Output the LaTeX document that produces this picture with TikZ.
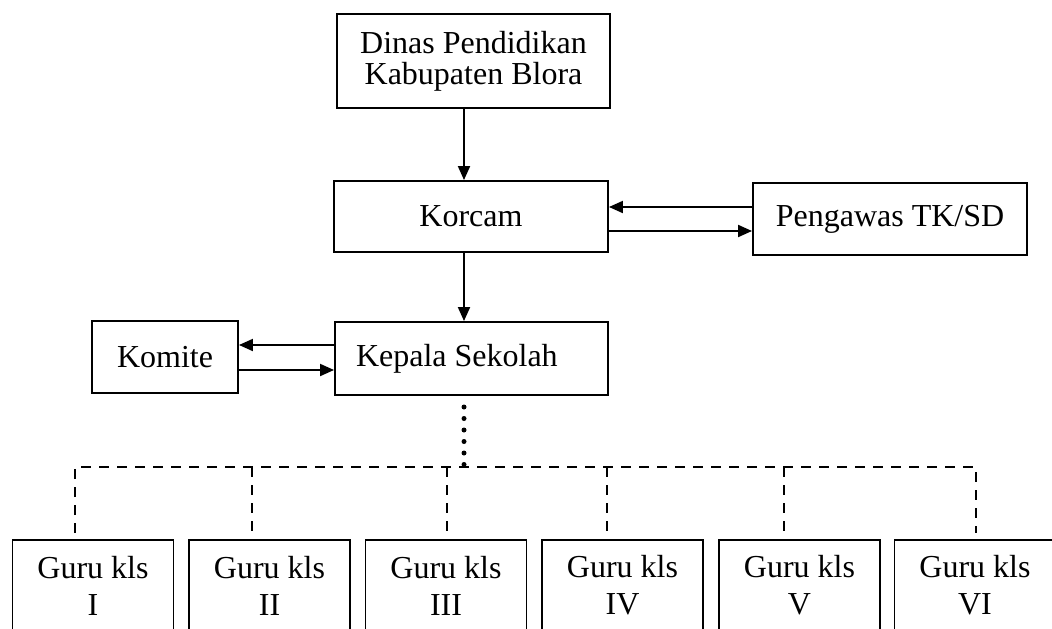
\documentclass[tikz,border=0pt]{standalone}
\usepackage{fontspec}
\setmainfont{Liberation Serif}
\usetikzlibrary{arrows.meta,positioning}
\begin{document}
\begin{tikzpicture}[x=1pt,y=-1pt,
  box/.style={draw,line width=1.9pt,rectangle,inner sep=0pt,align=center,
    font=\fontsize{32}{31}\selectfont},
  gurubox/.style={draw,line width=1.8pt,rectangle,inner sep=0pt,align=center,
    minimum width=161pt,minimum height=91pt,anchor=north,
    font=\fontsize{32}{37}\selectfont},
  arr/.style={line width=1.9pt,-{Triangle[length=14pt,width=12pt]}},
  dashline/.style={line width=2.1pt,dash pattern=on 10pt off 8pt},
  dotline/.style={line width=5pt,line cap=round,dash pattern=on 0pt off 11.5pt}]
\useasboundingbox (0,0) rectangle (1052,629);
\clip (0,0) rectangle (1052,629);
% top boxes
\node[box,minimum width=273pt,minimum height=94pt] (dinas) at (473.5,61) {Dinas Pendidikan\\Kabupaten Blora};
\node[box,minimum width=274pt,minimum height=71pt] (korcam) at (471,216.5) {Korcam};
\node[box,minimum width=274pt,minimum height=72pt] (peng) at (890,219) {Pengawas TK/SD};
\node[box,minimum width=273pt,minimum height=73pt] (kepala) at (471.5,358.5) {\makebox[231pt][l]{Kepala Sekolah}};
\node[box,minimum width=146pt,minimum height=72pt] (komite) at (165,357) {Komite};
% bottom boxes
\node[gurubox] (g1) at (93,539) {Guru kls\\I};
\node[gurubox] (g2) at (269.5,539) {Guru kls\\II};
\node[gurubox] (g3) at (446,539) {Guru kls\\III};
\node[gurubox] (g4) at (622.5,539) {Guru kls\\IV};
\node[gurubox] (g5) at (799.5,539) {Guru kls\\V};
\node[gurubox] (g6) at (975,539) {Guru kls\\VI};
% helper coordinates
\coordinate (ax) at (464,0);
\coordinate (ay1) at (0,207);
\coordinate (ay2) at (0,231);
\coordinate (ky1) at (0,345);
\coordinate (ky2) at (0,370);
\coordinate (dy) at (0,407);
\coordinate (hy) at (0,467);
\coordinate (vy) at (0,533);
\coordinate (x1) at (75,0);
\coordinate (x2) at (252,0);
\coordinate (x3) at (447,0);
\coordinate (x4) at (607,0);
\coordinate (x5) at (784,0);
\coordinate (x6) at (976,0);
% arrows
\draw[arr] (ax |- dinas.south) -- (ax |- korcam.north);
\draw[arr] (ax |- korcam.south) -- (ax |- kepala.north);
\draw[arr] (peng.west |- ay1) -- (korcam.east |- ay1);
\draw[arr] (korcam.east |- ay2) -- (peng.west |- ay2);
\draw[arr] (kepala.west |- ky1) -- (komite.east |- ky1);
\draw[arr] (komite.east |- ky2) -- (kepala.west |- ky2);
% dotted link
\draw[dotline] (ax |- dy) -- (ax |- hy);
% dashed tree
\draw[dashline] (x1 |- vy) -- (x1 |- hy) -- (x6 |- hy) -- (x6 |- vy);
\foreach \c in {x2,x3,x4,x5} \draw[dashline] (\c |- hy) -- (\c |- vy);
\end{tikzpicture}
\end{document}
